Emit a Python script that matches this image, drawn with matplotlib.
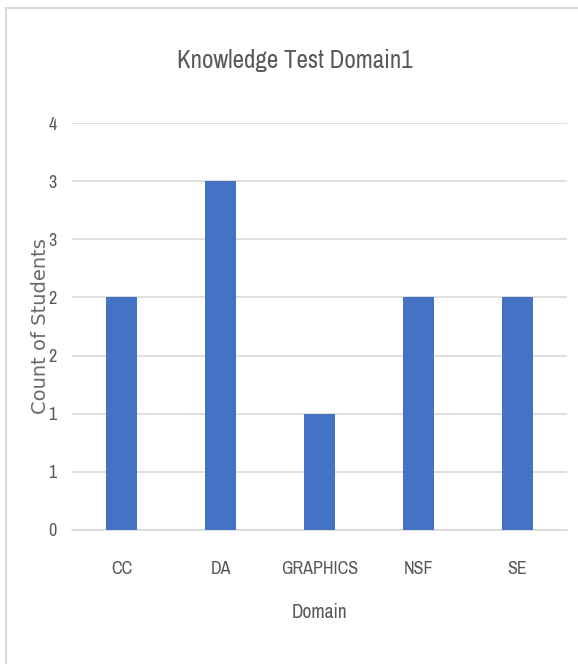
import matplotlib.pyplot as plt
from matplotlib import font_manager
from matplotlib.patches import Rectangle

domains = ["CC", "DA", "GRAPHICS", "NSF", "SE"]
counts = [2, 3, 1, 2, 2]
y_ticks = [0, 0.5, 1, 1.5, 2, 2.5, 3, 3.5]
y_tick_labels = ["0", "1", "1", "2", "2", "3", "3", "4"]

names = {f.name for f in font_manager.fontManager.ttflist}
narrow = next((n for n in ["Archivo Narrow", "Asap Condensed", "Barlow Condensed", "Liberation Sans"]
               if n in names), "DejaVu Sans")

grey = "#595959"
fig = plt.figure(figsize=(5.78, 6.64), dpi=100)
ax = fig.add_axes([72 / 578, 1 - 530 / 664, (567 - 72) / 578, (530 - 123) / 664])

ax.bar(range(len(domains)), counts, width=0.31, color="#4472c4", zorder=3)
ax.set_xlim(-0.5, len(domains) - 0.5)
ax.set_ylim(0, 3.5)
ax.set_yticks(y_ticks)
ax.set_yticklabels(y_tick_labels)
ax.set_xticks(range(len(domains)))
ax.set_xticklabels(domains)
ax.grid(axis="y", color="#d9d9d9", linewidth=1.2, zorder=0)
for s in ["top", "right", "left"]:
    ax.spines[s].set_visible(False)
ax.spines["bottom"].set_color("#d9d9d9")
ax.spines["bottom"].set_linewidth(1.2)
ax.tick_params(length=0, labelcolor=grey, labelsize=13, pad=22)
ax.tick_params(axis="y", pad=11)
for lab in ax.get_xticklabels() + ax.get_yticklabels():
    lab.set_fontfamily(narrow)

ax.set_xlabel("Domain", fontfamily=narrow, fontsize=14, color=grey, labelpad=19)
ax.set_ylabel("Count of Students", fontfamily="DejaVu Sans", fontsize=14, color="#6a6a6a",
              labelpad=-1)
fig.text(295 / 578, 1 - 60 / 664, "Knowledge Test Domain1", ha="center", va="center",
         fontfamily=narrow, fontsize=18, color=grey)

# chart border
fig.patches.append(Rectangle((6 / 578, -0.1), 1.2, 1 - 8 / 664 + 0.1, transform=fig.transFigure,
                             fill=False, edgecolor="#d9d9d9", linewidth=1.5))

fig.savefig("out.png", dpi=100)
